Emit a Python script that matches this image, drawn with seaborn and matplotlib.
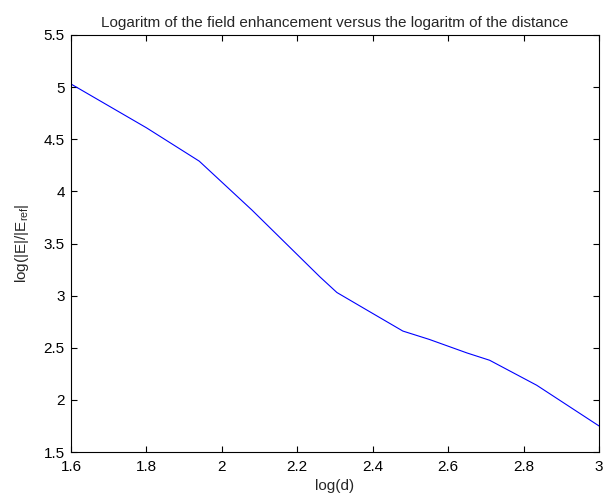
import matplotlib
matplotlib.use("Agg")
import matplotlib.pyplot as plt
import matplotlib.ticker as mticker
import numpy as np
import pandas as pd
import seaborn as sns

# log10 of distance and log10 of field enhancement ratio
log_d = [1.60, 1.80, 1.94, 2.08, 2.17, 2.26, 2.305, 2.39, 2.48, 2.55, 2.65, 2.71, 2.835, 3.00]
log_e = [5.03, 4.61, 4.29, 3.82, 3.50, 3.18, 3.03, 2.85, 2.66, 2.58, 2.45, 2.38, 2.14, 1.75]

x_ticks = [1.6, 1.8, 2.0, 2.2, 2.4, 2.6, 2.8, 3.0]
y_ticks = [1.5, 2.0, 2.5, 3.0, 3.5, 4.0, 4.5, 5.0, 5.5]

sns.set_style("ticks")
plt.rcParams["font.family"] = ["Liberation Sans", "DejaVu Sans"]
plt.rcParams["mathtext.fontset"] = "custom"
plt.rcParams["mathtext.rm"] = "Liberation Sans"
plt.rcParams["mathtext.it"] = "Liberation Sans"

df = pd.DataFrame({"log_d": log_d, "log_e": log_e})

fig = plt.figure(figsize=(6.04, 4.97), dpi=100)
ax = fig.add_axes([71 / 604, 1 - 452 / 497, (599 - 71) / 604, (452 - 35) / 497])

sns.lineplot(data=df, x="log_d", y="log_e", ax=ax, color="#0000ff", linewidth=0.8)

ax.set_xlim(1.6, 3.0)
ax.set_ylim(1.5, 5.5)
ax.set_xticks(x_ticks)
ax.set_yticks(y_ticks)
fmt = mticker.FormatStrFormatter("%g")
ax.xaxis.set_major_formatter(fmt)
ax.yaxis.set_major_formatter(fmt)

for s in ax.spines.values():
    s.set_visible(True)
    s.set_linewidth(0.8)
    s.set_color("black")

ax.tick_params(direction="in", length=4, width=0.8, top=True, right=True,
               labelsize=11, pad=4.5, colors="black")
ax.tick_params(axis="x", pad=5.5)

ax.set_title("Logaritm of the field enhancement versus the logaritm of the distance",
             fontsize=11, pad=6)
ax.set_xlabel("log(d)", fontsize=11, labelpad=4)
ax.set_ylabel(r"log(|E|/|E$_{\mathrm{ref}}$|", fontsize=11, labelpad=9)

fig.savefig("out.png", dpi=100)
